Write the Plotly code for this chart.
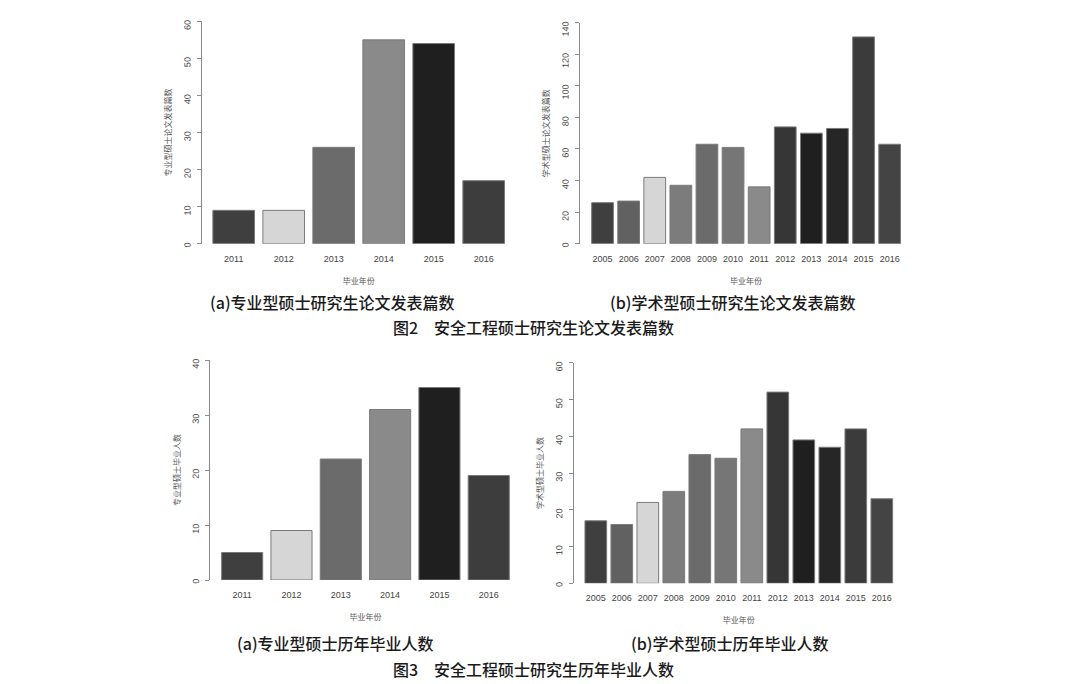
import plotly.graph_objects as go

W, H = 1078, 684

# ---------------- data ----------------
years_a = ["2011", "2012", "2013", "2014", "2015", "2016"]
years_b = ["2005", "2006", "2007", "2008", "2009", "2010",
           "2011", "2012", "2013", "2014", "2015", "2016"]

papers_prof = [9, 9, 26, 55, 54, 17]
papers_acad = [26, 27, 42, 37, 63, 61, 36, 74, 70, 73, 131, 63]
grads_prof = [5, 9, 22, 31, 35, 19]
grads_acad = [17, 16, 22, 25, 35, 34, 42, 52, 39, 37, 42, 23]

colors_a = ["#3f3f3f", "#d6d6d6", "#6b6b6b", "#8a8a8a", "#1f1f1f", "#3d3d3d"]
colors_b = ["#3f3f3f", "#616161", "#d6d6d6", "#7c7c7c", "#6b6b6b", "#767676",
            "#8a8a8a", "#363636", "#1f1f1f", "#262626", "#3b3b3b", "#444444"]

ytitle = ["专业型硕士论文发表篇数", "学术型硕士论文发表篇数",
          "专业型硕士毕业人数", "学术型硕士毕业人数"]
xtitle = "毕业年份"
captions = ["(a)专业型硕士研究生论文发表篇数", "(b)学术型硕士研究生论文发表篇数",
            "图2\u3000安全工程硕士研究生论文发表篇数",
            "(a)专业型硕士历年毕业人数", "(b)学术型硕士历年毕业人数",
            "图3\u3000安全工程硕士研究生历年毕业人数"]

# ---------------- layout geometry (pixels) ----------------
panels = [
    dict(x0=208.7, x1=508.7, yt=21.3, yb=243.7, ax=201, ymax=60, dt=10,
         cats=years_a, vals=papers_prof, cols=colors_a),
    dict(x0=589.5, x1=902.7, yt=22.7, yb=243.7, ax=579, ymax=140, dt=20,
         cats=years_b, vals=papers_acad, cols=colors_b),
    dict(x0=217.5, x1=513.4, yt=360.0, yb=580.0, ax=209.3, ymax=40, dt=10,
         cats=years_a, vals=grads_prof, cols=colors_a),
    dict(x0=582.8, x1=894.8, yt=362.7, yb=583.3, ax=572.7, ymax=60, dt=10,
         cats=years_b, vals=grads_acad, cols=colors_b),
]

fig = go.Figure()
layout = dict(width=W, height=H, margin=dict(l=0, r=0, t=0, b=0, autoexpand=False),
              paper_bgcolor="white", plot_bgcolor="white", showlegend=False,
              bargap=0.1667,
              font=dict(family="Liberation Sans, Noto Sans CJK SC", color="#444"))

tick_font = dict(family="Liberation Sans, Noto Sans CJK SC", size=9, color="#444")
title_font = dict(family="Noto Sans CJK SC", size=8, color="#555")

for i, p in enumerate(panels):
    k = "" if i == 0 else str(i + 1)
    fig.add_trace(go.Bar(
        x=p["cats"], y=p["vals"], xaxis="x" + k, yaxis="y" + k,
        marker=dict(color=p["cols"], line=dict(color="#7a7a7a", width=1)),
        hoverinfo="x+y"))
    layout["xaxis" + k] = dict(
        domain=[p["x0"] / W, p["x1"] / W], anchor="y" + k, type="category",
        range=[-0.5, len(p["cats"]) - 0.5], automargin=False,
        showline=False, showgrid=False, zeroline=False, ticks="",
        tickfont=tick_font, ticklabelstandoff=8,
        title=dict(text=xtitle, font=title_font, standoff=15))
    layout["yaxis" + k] = dict(
        domain=[1 - p["yb"] / H, 1 - p["yt"] / H], anchor="free",
        position=p["ax"] / W, range=[0, p["ymax"]], dtick=p["dt"], tick0=0,
        automargin=False,
        showline=True, linecolor="#8a8a8a", linewidth=1,
        ticks="outside", ticklen=4, tickcolor="#8a8a8a",
        tickangle=-89, tickfont=tick_font, ticklabelstandoff=9,
        showgrid=False, zeroline=False,
        title=dict(text=ytitle[i], font=title_font, standoff=8))

cap_font = dict(family="Noto Sans CJK SC", size=16, color="#1a1a1a", weight=500)
cap_pos = [(332, 302), (732, 302), (533, 327), (335, 643), (729, 643), (533, 669)]
annotations = []
for txt, (cx, cy) in zip(captions, cap_pos):
    annotations.append(dict(text=txt, x=cx / W, y=1 - cy / H, xref="paper",
                            yref="paper", showarrow=False, xanchor="center",
                            yanchor="middle", font=cap_font))
layout["annotations"] = annotations

fig.update_layout(**layout)
fig.write_html("out.html")
